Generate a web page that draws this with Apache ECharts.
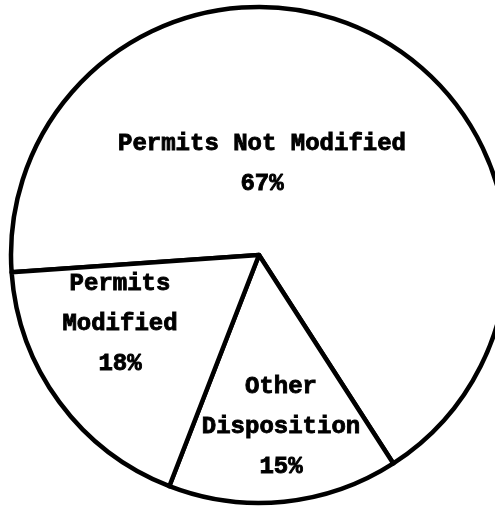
<!DOCTYPE html>
<html>
<head>
<meta charset="utf-8">
<script src="https://cdn.jsdelivr.net/npm/echarts@6/dist/echarts.min.js"></script>
<style>html,body{margin:0;padding:0;background:#fff;}#c{width:495px;height:506px;}</style>
</head>
<body>
<div id="c"></div>
<script>
const categories = ['Permits Not Modified', 'Other\nDisposition', 'Permits\nModified'];
const values = [67, 15, 18];
const valueLabels = ['67%', '15%', '18%'];

// label anchor positions (layout, not data)
const labelPos = [[262, 164], [281, 427], [120, 324]];

const chart = echarts.init(document.getElementById('c'), null, {renderer: 'canvas'});
chart.setOption({
  backgroundColor: '#ffffff',
  animation: false,
  series: [{
    type: 'pie',
    center: [259, 255],
    radius: [0, 248],
    startAngle: 184,
    clockwise: true,
    silent: true,
    data: categories.map((c, i) => ({name: c, value: values[i]})),
    itemStyle: {color: '#ffffff', borderColor: '#000000', borderWidth: 4.5, borderJoin: 'round'},
    label: {
      show: true,
      position: 'inside',
      formatter: p => p.name + '\n' + valueLabels[p.dataIndex],
      fontFamily: 'Liberation Mono, DejaVu Sans Mono, monospace',
      fontWeight: 'bold',
      fontSize: 24,
      lineHeight: 40,
      color: '#000000',
      textBorderColor: '#000000',
      textBorderWidth: 0.9,
      align: 'center'
    },
    labelLine: {show: false},
    labelLayout: function (params) {
      const p = labelPos[params.dataIndex];
      return {x: p[0], y: p[1], align: 'center', verticalAlign: 'middle'};
    }
  }]
});
</script>
</body>
</html>
